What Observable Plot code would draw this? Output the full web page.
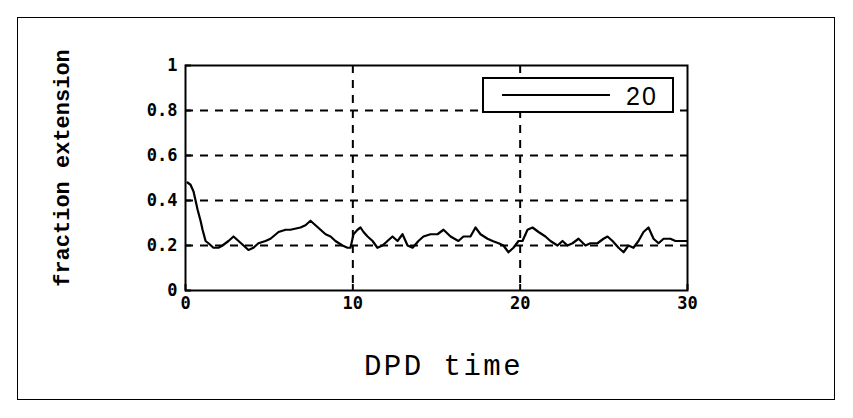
<!DOCTYPE html>
<html>
<head>
<meta charset="utf-8">
<script src="https://cdn.jsdelivr.net/npm/d3@7"></script>
<script src="https://cdn.jsdelivr.net/npm/@observablehq/plot@0.6"></script>
<style>
  html, body { margin: 0; padding: 0; background: #fff; }
  #wrap { position: relative; width: 853px; height: 418px; }
  #border { position: absolute; left: 17px; top: 17px; width: 818px; height: 383px; border: 1px solid #000; box-sizing: border-box; pointer-events: none; }
  #legend { position: absolute; left: 482px; top: 77px; width: 192px; height: 36px; border: 2px solid #000; box-sizing: border-box; background: #fff; }
  #legend .swatch { position: absolute; left: 18px; top: 15px; width: 108px; height: 0; border-top: 2px solid #000; }
  #legend .lbl { position: absolute; left: 142px; top: 2px; font: 25px "Liberation Sans", Arial, sans-serif; letter-spacing: 2px; line-height: 30px; }
</style>
</head>
<body>
<div id="wrap">
  <div id="border"></div>
</div>
<script>
// DPD run: fraction extension over time
const time = [0.12,0.30,0.48,0.72,0.90,1.02,1.20,1.37,1.67,1.97,2.21,2.57,2.87,3.17,3.47,3.76,4.06,4.36,4.78,5.08,5.56,5.98,6.27,6.87,7.17,7.47,7.77,8.07,8.37,8.67,8.96,9.38,9.68,9.86,10.04,10.28,10.46,10.64,10.88,11.18,11.47,11.77,12.07,12.37,12.67,12.97,13.27,13.57,13.92,14.22,14.64,15.06,15.42,15.84,16.31,16.61,17.03,17.33,17.63,18.05,18.35,18.71,19.00,19.30,19.60,19.90,20.14,20.44,20.74,21.10,21.51,21.81,22.23,22.53,22.83,23.13,23.49,23.90,24.20,24.62,24.98,25.22,25.52,25.88,26.18,26.47,26.77,27.07,27.37,27.67,27.97,28.27,28.57,28.98,29.28,29.58,29.94];
const extension = [0.48,0.47,0.44,0.36,0.31,0.27,0.22,0.21,0.19,0.19,0.20,0.22,0.24,0.22,0.20,0.18,0.19,0.21,0.22,0.23,0.26,0.27,0.27,0.28,0.29,0.31,0.29,0.27,0.25,0.24,0.22,0.20,0.19,0.19,0.25,0.27,0.28,0.26,0.24,0.22,0.19,0.20,0.22,0.24,0.22,0.25,0.20,0.19,0.22,0.24,0.25,0.25,0.27,0.24,0.22,0.24,0.24,0.28,0.25,0.23,0.22,0.21,0.20,0.17,0.19,0.22,0.22,0.27,0.28,0.26,0.24,0.22,0.20,0.22,0.20,0.21,0.23,0.20,0.21,0.21,0.23,0.24,0.22,0.19,0.17,0.20,0.19,0.22,0.26,0.28,0.23,0.21,0.23,0.23,0.22,0.22,0.22];
const seriesName = "20";

const xTicks = [0, 10, 20, 30];
const yTicks = [0, 0.2, 0.4, 0.6, 0.8, 1];
const xGrid = [10, 20];
const yGrid = [0.2, 0.4, 0.6, 0.8];

const data = time.map((t, i) => ({t, v: extension[i]}));

const tickFont = {fontFamily: "'DejaVu Sans Mono', monospace", fontWeight: "bold", fontSize: 17};
const monoFont = "'Liberation Mono', 'Courier New', monospace";

const chart = Plot.plot({
  width: 853,
  height: 418,
  marginLeft: 185,
  marginRight: 166,
  marginTop: 65,
  marginBottom: 128,
  style: {background: "transparent", color: "#000"},
  x: {domain: [0, 30]},
  y: {domain: [0, 1]},
  marks: [
    Plot.gridX(xGrid, {stroke: "#000", strokeOpacity: 1, strokeWidth: 2, strokeDasharray: "8,7"}),
    Plot.gridY(yGrid, {stroke: "#000", strokeOpacity: 1, strokeWidth: 2, strokeDasharray: "8,7"}),
    Plot.axisY(yTicks, {tickSize: -6, strokeWidth: 2, tickPadding: 14, label: null, tickFormat: d => String(d), ...tickFont}),
    Plot.axisX(xTicks, {tickSize: -6, strokeWidth: 2, tickPadding: 12, label: null, tickFormat: d => String(d), ...tickFont}),
    Plot.frame({stroke: "#000", strokeWidth: 2}),
    Plot.line(data, {x: "t", y: "v", stroke: "#000", strokeWidth: 2.2, curve: "linear"}),
    Plot.text(["fraction extension"], {frameAnchor: "left", dx: -124, dy: -10, rotate: -90, fontFamily: monoFont, fontSize: 22, fontWeight: "bold", textAnchor: "middle"}),
    Plot.text(["DPD time"], {frameAnchor: "bottom", dy: 84, dx: 7, fontFamily: monoFont, fontSize: 29, textAnchor: "middle", className: "xlab"})
  ]
});

// slightly wider spacing for the x title
d3.select(chart).selectAll(".xlab text").attr("letter-spacing", 2.5);

const wrap = document.getElementById("wrap");
wrap.insertBefore(chart, wrap.firstChild);

const legend = document.createElement("div");
legend.id = "legend";
legend.innerHTML = `<div class="swatch"></div><div class="lbl"></div>`;
legend.querySelector(".lbl").textContent = seriesName;
wrap.appendChild(legend);
</script>
</body>
</html>
